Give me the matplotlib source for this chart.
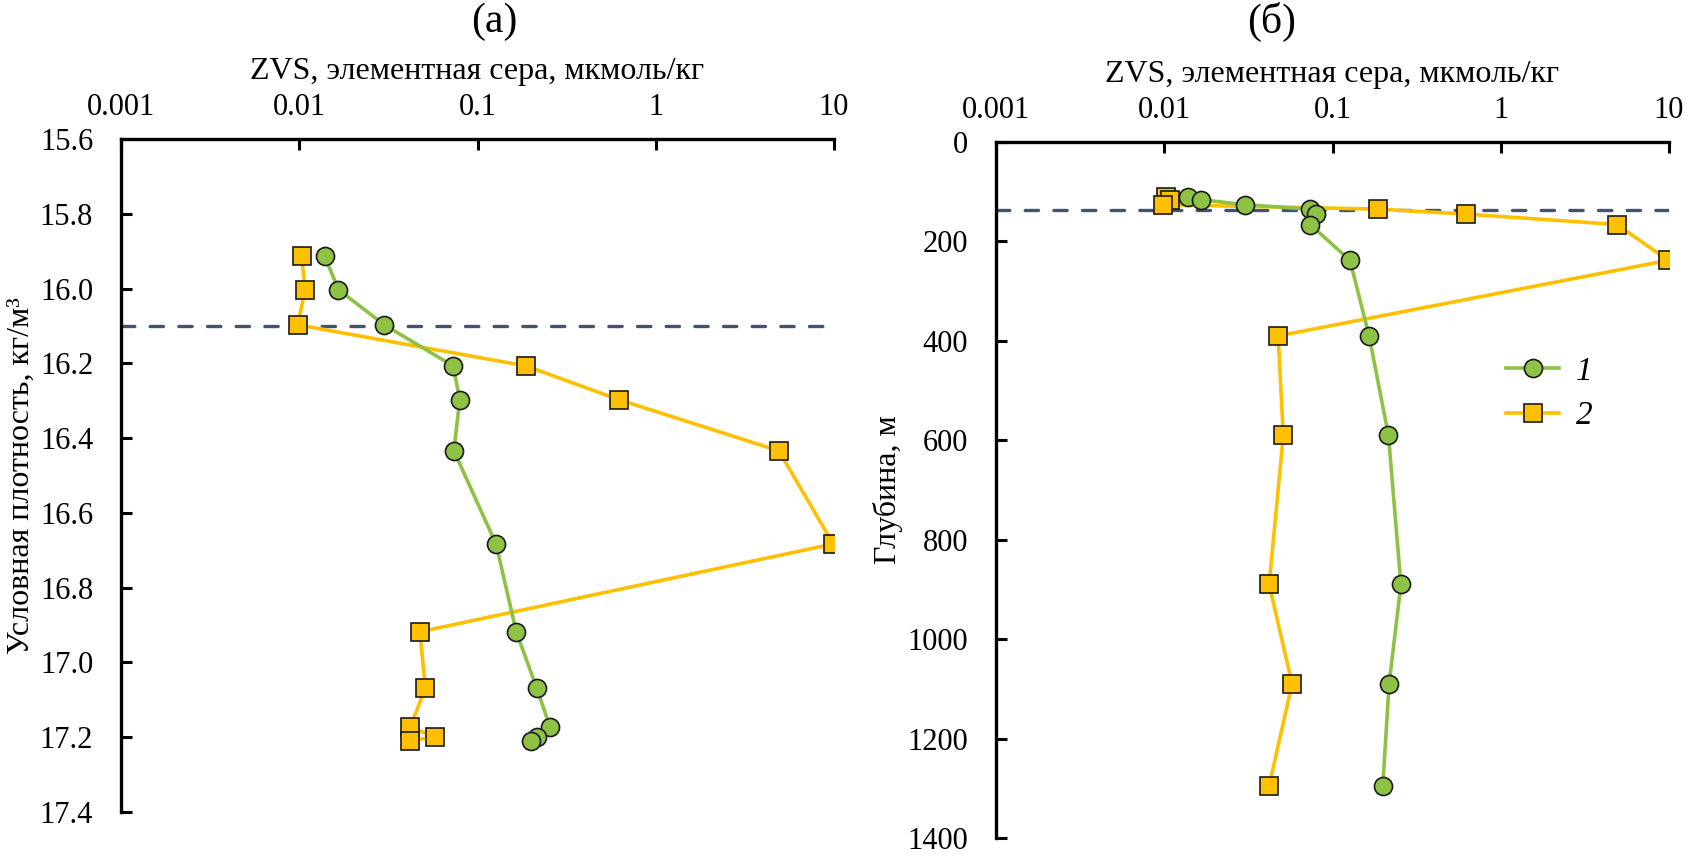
import numpy as np
import matplotlib
matplotlib.use('Agg')
import matplotlib.pyplot as plt

# Data
density = [15.914, 16.003, 16.097, 16.207, 16.297, 16.434, 16.683,
           16.918, 17.069, 17.172, 17.200, 17.209]
depth = [111, 116, 126, 135, 145, 166, 238, 390, 590, 890, 1090, 1295]
zvs_1 = [0.0139, 0.0166, 0.0300, 0.0730, 0.0795, 0.0737, 0.127,
         0.165, 0.215, 0.255, 0.217, 0.199]
zvs_2 = [0.0103, 0.0108, 0.0098, 0.187, 0.62, 4.9, 9.9,
         0.0475, 0.051, 0.042, 0.0575, 0.042]
dens_line = 16.1
depth_line = 137
x_ticks = [0.001, 0.01, 0.1, 1, 10]
x_ticklabels = ['0.001', '0.01', '0.1', '1', '10']
dens_ticks = [15.6, 15.8, 16.0, 16.2, 16.4, 16.6, 16.8, 17.0, 17.2, 17.4]
depth_ticks = [0, 200, 400, 600, 800, 1000, 1200, 1400]

plt.rcParams['font.family'] = ['Liberation Serif', 'DejaVu Serif']
plt.rcParams['font.size'] = 22

green = '#8DC245'
gold = '#FFC000'
dash_col = '#44546A'

fig = plt.figure(figsize=(16.93, 8.65), dpi=100)
W, H = 1693, 865
ax_a = fig.add_axes([121 / W, 1 - 812 / H, (834 - 121) / W, (812 - 139) / H])
ax_b = fig.add_axes([996 / W, 1 - 838 / H, (1669 - 996) / W, (838 - 142) / H])


def style_axis(ax, yticks, ylim, ylabel, fmt):
    ax.set_xscale('log')
    ax.set_xlim(0.001, 10)
    ax.set_ylim(ylim)
    ax.xaxis.set_ticks_position('top')
    ax.xaxis.set_label_position('top')
    ax.set_xticks(x_ticks)
    ax.set_xticklabels(x_ticklabels)
    ax.xaxis.set_minor_locator(matplotlib.ticker.NullLocator())
    ax.set_yticks(yticks)
    ax.set_yticklabels([fmt.format(t) for t in yticks])
    for s in ['right', 'bottom']:
        ax.spines[s].set_visible(False)
    for s in ['top', 'left']:
        ax.spines[s].set_linewidth(2.4)
    ax.tick_params(direction='in', length=8, width=2.2, labelsize=22)
    ax.tick_params(axis='x', pad=12)
    ax.tick_params(axis='y', pad=20)
    ax.set_xlabel('ZVS, элементная сера, мкмоль/кг', fontsize=23, labelpad=10)
    ax.set_ylabel(ylabel, fontsize=23, labelpad=3)


def draw(ax, y, yline):
    ax.axhline(yline, color=dash_col, lw=2.4, dashes=(4.0, 4.6),
               dash_capstyle='round', zorder=1)
    ax.plot(zvs_1, y, color=green, lw=2.6, marker='o', ms=13,
            mfc=green, mec='#1a1a1a', mew=1.2, label='1', zorder=3)
    ax.plot(zvs_2, y, color=gold, lw=2.6, marker='s', ms=13,
            mfc=gold, mec='#1a1a1a', mew=1.2, label='2', zorder=2)


draw(ax_a, density, dens_line)
style_axis(ax_a, dens_ticks, (17.4, 15.6), 'Условная плотность, кг/м³', '{:.1f}')

draw(ax_b, depth, depth_line)
style_axis(ax_b, depth_ticks, (1400, 0), 'Глубина, м', '{:d}')

leg = ax_b.legend(loc='upper left', bbox_to_anchor=(0.713, 0.735), frameon=False,
                  prop={'style': 'italic', 'size': 24}, handlelength=1.6,
                  handletextpad=0.5, labelspacing=0.42)

fig.text(494 / W, 1 - 22 / H, '(а)', ha='center', va='center', fontsize=30)
fig.text(1272 / W, 1 - 22 / H, '(б)', ha='center', va='center', fontsize=30)

fig.savefig('out.png', dpi=100)
